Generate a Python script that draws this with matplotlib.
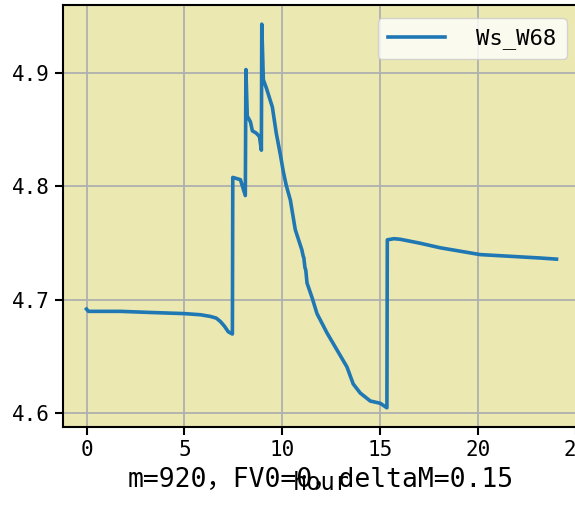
import matplotlib
matplotlib.use("Agg")
import matplotlib.pyplot as plt

# hour / Ws_W68
hours = [0.0, 0.1, 1.73, 3.27, 5.0, 5.82, 6.33, 6.63, 6.84, 7.04, 7.24, 7.45,
         7.47, 7.86, 8.11,
         8.14, 8.21, 8.37, 8.47, 8.67, 8.83, 8.93,
         8.95, 9.03, 9.18, 9.29, 9.49, 9.69, 9.90, 10.05, 10.2, 10.41, 10.66,
         11.0, 11.06, 11.1, 11.15, 11.2, 11.26, 11.32, 11.52, 11.77, 12.28,
         12.79, 13.3, 13.62, 13.98, 14.49, 15.0, 15.34,
         15.36, 15.7, 16.02, 17.04, 18.06, 19.08, 20.1, 21.12, 22.14, 23.16, 24.0]
ws_w68 = [4.692, 4.690, 4.690, 4.689, 4.688, 4.687, 4.6855, 4.684, 4.681, 4.677, 4.672, 4.670,
          4.808, 4.806, 4.792,
          4.903, 4.862, 4.857, 4.849, 4.847, 4.844, 4.832,
          4.943, 4.894, 4.887, 4.881, 4.870, 4.847, 4.828, 4.813, 4.801, 4.788, 4.762,
          4.744, 4.739, 4.737, 4.729, 4.726, 4.715, 4.712, 4.702, 4.688, 4.671,
          4.656, 4.641, 4.626, 4.618, 4.611, 4.609, 4.605,
          4.753, 4.754, 4.7535, 4.750, 4.746, 4.743, 4.740, 4.739, 4.738, 4.737, 4.736]

mono = ["DejaVu Sans Mono", "Noto Sans CJK SC"]

fig = plt.figure(figsize=(5.75, 5.08), dpi=100)
ax = fig.add_axes([63 / 575, 81 / 508, 517 / 575, 422 / 508])
ax.set_facecolor("#ebe8b2")

ax.plot(hours, ws_w68, color="#1f77b4", linewidth=2.6, label="Ws_W68")

ax.grid(True, color="#b0b0b0", linewidth=1.3)
ax.set_axisbelow(True)
for sp in ax.spines.values():
    sp.set_linewidth(1.5)
ax.tick_params(length=6, width=1.5, labelsize=15)
for lbl in ax.get_xticklabels() + ax.get_yticklabels():
    lbl.set_family(mono)

ax.set_yticks([4.6, 4.7, 4.8, 4.9])
ax.set_xticks([0, 5, 10, 15, 20, 25])
ax.set_xlabel("hour", fontsize=17, family=mono, labelpad=8)

ax.legend(loc="upper right", prop={"family": mono, "size": 16},
          handlelength=2.6, handletextpad=1.4, borderpad=0.45, borderaxespad=0.6)

fig.text(320.5 / 575, 21 / 508, "m=920，FV0=0，deltaM=0.15",
         ha="center", va="baseline", fontsize=19, family=mono)

fig.savefig("out.png", dpi=100)
